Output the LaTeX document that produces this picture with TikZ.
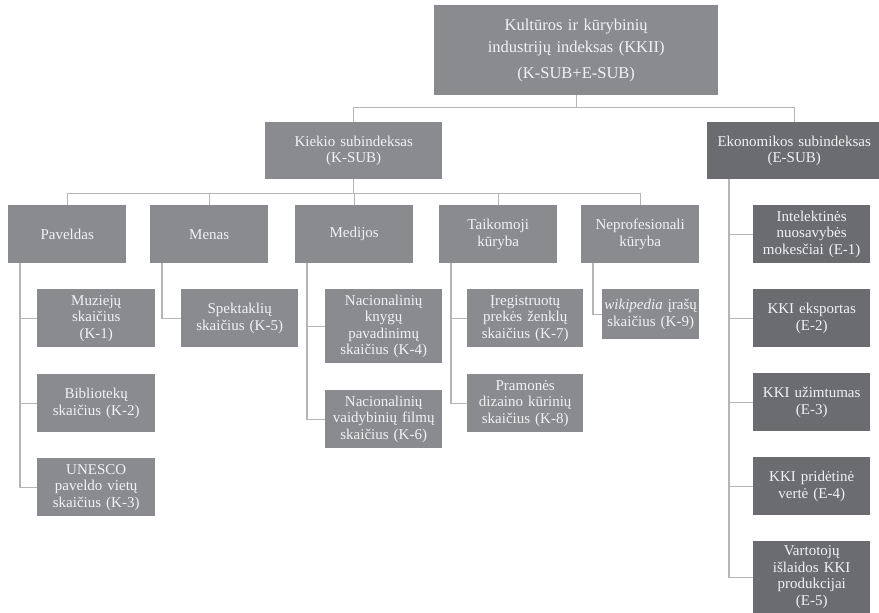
\documentclass[tikz,border=0pt]{standalone}
\usepackage{fontspec}
\setmainfont{Liberation Serif}

\definecolor{boxgray}{HTML}{8A8B8F}
\definecolor{ecogray}{HTML}{6B6C70}
\definecolor{linegray}{HTML}{B6B6B6}

\tikzset{
  box/.style={fill=boxgray, text=white!95!black, anchor=north west,
    inner xsep=0pt, inner ysep=1pt, align=center, text width=#1,
    minimum height=58pt, font=\fontsize{15}{16.5}\selectfont},
  box/.default=118pt,
  ebox/.style={box=#1, fill=ecogray},
  ebox/.default=117pt,
  link/.style={draw=linegray, line width=1.2pt},
}

\begin{document}
\begin{tikzpicture}[x=1pt, y=-1pt]
  \useasboundingbox (0,0) rectangle (879,613);

  % index and subindexes
  \node[box=284pt, minimum height=90pt, font=\fontsize{16.5}{22}\selectfont] (kkii) at (434,5)
    {Kultūros ir kūrybinių\\ industrijų indeksas (KKII)\\[4pt] (K-SUB+E-SUB)};
  \node[box=177pt, minimum height=57pt] (ksub) at (265,122) {Kiekio subindeksas\\ (K-SUB)};
  \node[ebox=174pt, minimum height=57pt] (esub) at (707,122) {Ekonomikos subindeksas\\ (E-SUB)};

  % K-SUB groups
  \node[box] (pav) at (8,205)   {Paveldas};
  \node[box] (men) at (150,205) {Menas};
  \node[box] (med) at (295,205) {Medijos};
  \node[box] (tai) at (439,205) {Taikomoji\\ kūryba};
  \node[box] (nep) at (581,205) {Neprofesionali\\ kūryba};

  % K indicators
  \node[box] (k1) at (37,289) {Muziejų\\ skaičius\\ (K-1)};
  \node[box] (k2) at (37,374) {Bibliotekų\\ skaičius (K-2)};
  \node[box] (k3) at (37,458) {UNESCO\\ paveldo vietų\\ skaičius (K-3)};
  \node[box=117pt] (k5) at (181,289) {Spektaklių\\ skaičius (K-5)};
  \node[box=117pt, minimum height=74pt] (k4) at (325,289) {Nacionalinių\\ knygų\\ pavadinimų\\ skaičius (K-4)};
  \node[box=117pt] (k6) at (325,390) {Nacionalinių\\ vaidybinių filmų\\ skaičius (K-6)};
  \node[box=116pt] (k7) at (467,289) {Įregistruotų\\ prekės ženklų\\ skaičius (K-7)};
  \node[box=116pt] (k8) at (467,374) {Pramonės\\ dizaino kūrinių\\ skaičius (K-8)};
  \node[box=97pt, minimum height=50pt] (k9) at (602,289) {\textit{wikipedia} įrašų\\ skaičius (K-9)};

  % E indicators
  \node[ebox] (e1) at (753,205) {Intelektinės\\ nuosavybės\\ mokesčiai (E-1)};
  \node[ebox] (e2) at (753,289) {KKI eksportas\\ (E-2)};
  \node[ebox] (e3) at (753,373) {KKI užimtumas\\ (E-3)};
  \node[ebox] (e4) at (753,457) {KKI pridėtinė\\ vertė (E-4)};
  \node[ebox, minimum height=72pt] (e5) at (753,541) {Vartotojų\\ išlaidos KKI\\ produkcijai\\ (E-5)};

  % connectors
  \draw[link] (kkii.south) -- ++(0,12) coordinate (bus0);
  \draw[link] (ksub.north) |- (bus0) -| (esub.north);
  \draw[link] (ksub.south) -- ++(0,14) coordinate (bus1);
  \draw[link] (pav.north) |- (bus1) -| (nep.north);
  \foreach \g in {men,med,tai}
    \draw[link] (\g.north) -- (\g.north |- bus1);
  \foreach \g/\k in {pav/k1, pav/k2, pav/k3, men/k5, med/k4, med/k6, tai/k7, tai/k8, nep/k9}
    \draw[link] ([xshift=12pt]\g.south west) |- (\k.west);
  \foreach \k in {e1,e2,e3,e4,e5}
    \draw[link] ([xshift=22pt]esub.south west) |- (\k.west);
\end{tikzpicture}
\end{document}
